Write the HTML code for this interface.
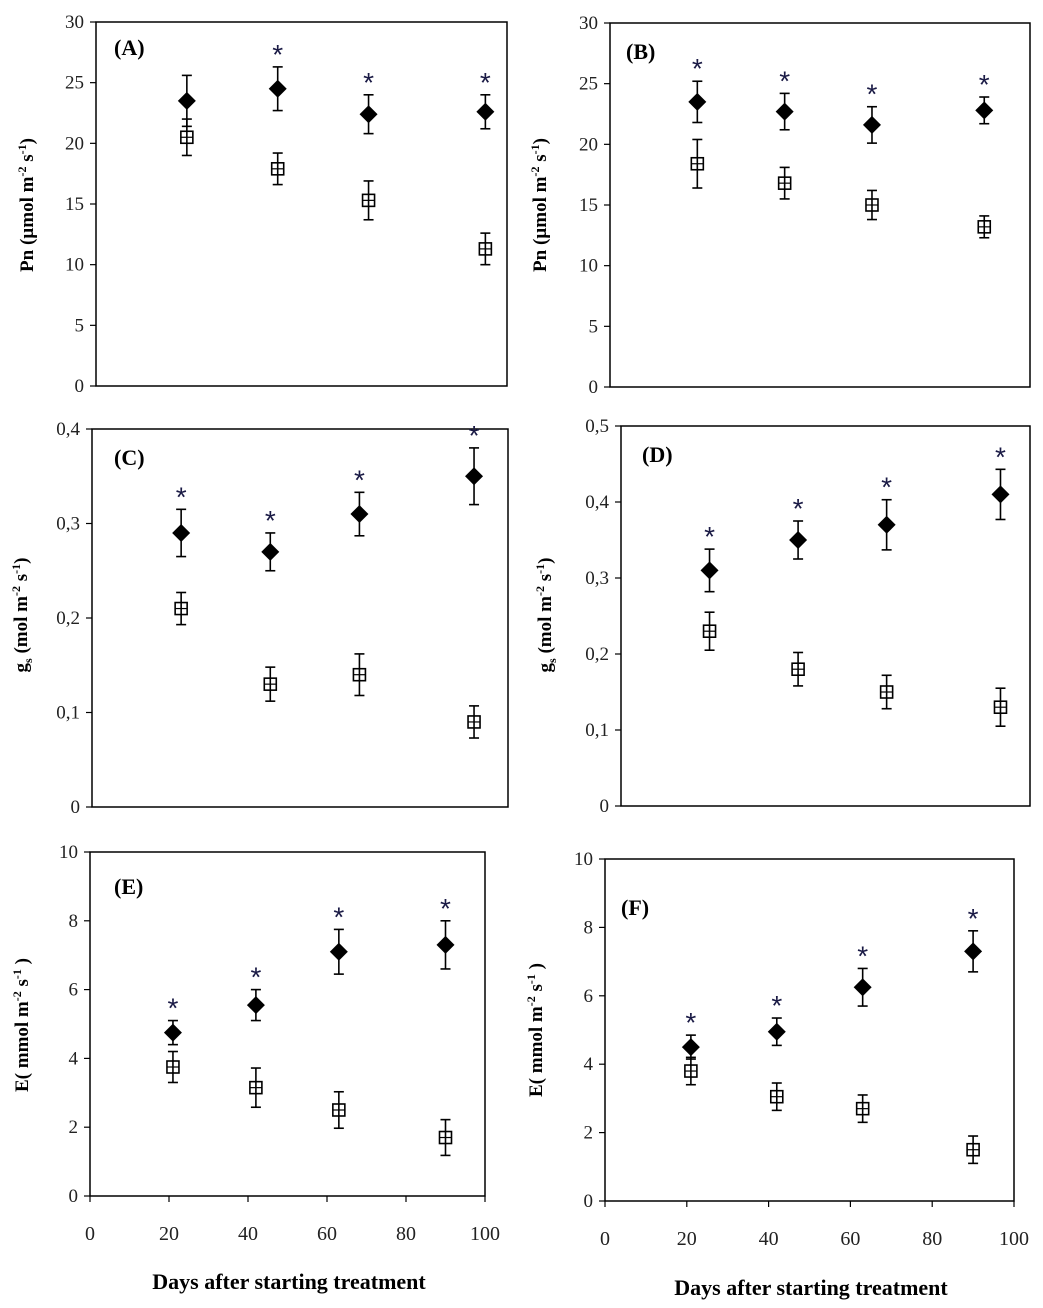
<!DOCTYPE html>
<html><head><meta charset="utf-8">
<style>
body{margin:0;background:#fff;}
svg{display:block;font-family:"Liberation Serif",serif;}
.tick{font-size:19px;fill:#222;}
.ytitle{font-size:19px;font-weight:bold;fill:#000;}
.plabel{font-size:22px;font-weight:bold;fill:#000;}
</style></head>
<body>
<svg id="fig" width="1043" height="1308" viewBox="0 0 1043 1308" xmlns="http://www.w3.org/2000/svg"></svg>
<script>
const days = [21, 42, 63, 90];
const aTreat = [23.5, 24.5, 22.4, 22.6];
const aTreatErr = [2.1, 1.8, 1.6, 1.4];
const aCtrl = [20.5, 17.9, 15.3, 11.3];
const aCtrlErr = [1.5, 1.3, 1.6, 1.3];
const aStar = [0, 1, 1, 1];
const bTreat = [23.5, 22.7, 21.6, 22.8];
const bTreatErr = [1.7, 1.5, 1.5, 1.1];
const bCtrl = [18.4, 16.8, 15.0, 13.2];
const bCtrlErr = [2.0, 1.3, 1.2, 0.9];
const bStar = [1, 1, 1, 1];
const cTreat = [0.29, 0.27, 0.31, 0.35];
const cTreatErr = [0.025, 0.02, 0.023, 0.03];
const cCtrl = [0.21, 0.13, 0.14, 0.09];
const cCtrlErr = [0.017, 0.018, 0.022, 0.017];
const cStar = [1, 1, 1, 1];
const dTreat = [0.31, 0.35, 0.37, 0.41];
const dTreatErr = [0.028, 0.025, 0.033, 0.033];
const dCtrl = [0.23, 0.18, 0.15, 0.13];
const dCtrlErr = [0.025, 0.022, 0.022, 0.025];
const dStar = [1, 1, 1, 1];
const eTreat = [4.75, 5.55, 7.1, 7.3];
const eTreatErr = [0.35, 0.45, 0.65, 0.7];
const eCtrl = [3.75, 3.15, 2.5, 1.7];
const eCtrlErr = [0.45, 0.57, 0.53, 0.52];
const eStar = [1, 1, 1, 1];
const fTreat = [4.5, 4.95, 6.25, 7.3];
const fTreatErr = [0.35, 0.4, 0.55, 0.6];
const fCtrl = [3.8, 3.05, 2.7, 1.5];
const fCtrlErr = [0.4, 0.4, 0.4, 0.4];
const fStar = [1, 1, 1, 1];
const pnTicks = ["0","5","10","15","20","25","30"];
const gsTicksC = ["0","0,1","0,2","0,3","0,4"];
const gsTicksD = ["0","0,1","0,2","0,3","0,4","0,5"];
const eTicks = ["0","2","4","6","8","10"];
const xTicks = ["0","20","40","60","80","100"];

const NS="http://www.w3.org/2000/svg";
const svg=document.getElementById('fig');
function mk(tag,attrs,parent){const e=document.createElementNS(NS,tag);for(const k in attrs)e.setAttribute(k,attrs[k]);(parent||svg).appendChild(e);return e;}

function panel(o){
  const g=mk('g',{});
  
  
  const ymax=o.yStep*(o.yTicks.length-1);
  const sy=v=>o.B-(v/ymax)*(o.B-o.T);
  const sx=d=>o.L+(d/o.xmax)*(o.R-o.L);
  const frame=mk('rect',{x:o.L,y:o.T,width:o.R-o.L,height:o.B-o.T,fill:'none',stroke:'#000','stroke-width':1.5},g);
  
  
  o.yTicks.forEach((t,i)=>{
    const y=sy(i*o.yStep);
    mk('line',{x1:o.L-6,x2:o.L,y1:y,y2:y,stroke:'#000','stroke-width':1.2},g);
    const tx=mk('text',{x:o.L-12,y:y+6,'text-anchor':'end',class:'tick'},g);
    tx.textContent=t;
    
    
  });
  if(o.xLabels){
    xTicks.forEach((t,i)=>{
      const x=sx(i*20);
      mk('line',{x1:x,x2:x,y1:o.B,y2:o.B+6,stroke:'#000','stroke-width':1.2},g);
      const tx=mk('text',{x:x,y:o.B+44,'text-anchor':'middle',class:'tick',style:'font-size:20px'},g);
      tx.textContent=t;
      
      
    });
    const xt=mk('text',{x:o.xtX,y:o.xtY,'text-anchor':'middle',class:'ytitle',style:'font-size:22px'},g);
    xt.textContent='Days after starting treatment';
    
    
  }
  const yt=mk('text',{transform:`translate(${o.ytX},${o.ytY}) rotate(-90)`,'text-anchor':'middle',class:'ytitle'},g);
  yt.innerHTML=o.ytitle;
  
  
  const pl=mk('text',{x:o.plX,y:o.plY,class:'plabel'},g);
  pl.textContent='('+o.id+')';
  
  
  function err(x,v,e){
    mk('line',{x1:x,x2:x,y1:sy(v-e),y2:sy(v+e),stroke:'#000','stroke-width':1.6},g);
    [v-e,v+e].forEach(w=>mk('line',{x1:x-5,x2:x+5,y1:sy(w),y2:sy(w),stroke:'#000','stroke-width':1.6},g));
  }
  days.forEach((d,i)=>{
    const x=sx(d);
    err(x,o.ctrl[i],o.ctrlErr[i]);
    const y=sy(o.ctrl[i]);
    const sq=mk('rect',{x:x-6,y:y-6,width:12,height:12,fill:'none',stroke:'#000','stroke-width':1.6},g);
    
    
    mk('line',{x1:x-6,x2:x+6,y1:y,y2:y,stroke:'#000','stroke-width':1.2},g);
    err(x,o.treat[i],o.treatErr[i]);
    const yd=sy(o.treat[i]);
    const dm=mk('polygon',{points:`${x},${yd-9} ${x+9},${yd} ${x},${yd+9} ${x-9},${yd}`,fill:'#000'},g);
    
    
    if(o.star[i]){
      const s=mk('text',{x:x,y:sy(o.treat[i]+o.treatErr[i])-3,'text-anchor':'middle',style:'font-size:28px;fill:#1a1a45;font-family:Liberation Sans,sans-serif'},g);
      s.textContent='*';
      
      
    }
  });
}
const pnT='Pn (µmol m<tspan dy="-7" font-size="12">-2</tspan><tspan dy="7"> s</tspan><tspan dy="-7" font-size="12">-1</tspan><tspan dy="7">)</tspan>';
const gsT='g<tspan dy="5" font-size="12">s</tspan><tspan dy="-5"> (mol m</tspan><tspan dy="-7" font-size="12">-2</tspan><tspan dy="7"> s</tspan><tspan dy="-7" font-size="12">-1</tspan><tspan dy="7">)</tspan>';
const eT='E( mmol m<tspan dy="-7" font-size="12">-2</tspan><tspan dy="7"> s</tspan><tspan dy="-7" font-size="12">-1</tspan><tspan dy="7"> )</tspan>';
panel({id:'A',L:96,R:507,T:22,B:386,xmax:95,yStep:5,yTicks:pnTicks,treat:aTreat,treatErr:aTreatErr,ctrl:aCtrl,ctrlErr:aCtrlErr,star:aStar,ytitle:pnT,ytX:33,ytY:205,plX:114,plY:55});
panel({id:'B',L:610,R:1030,T:23,B:387,xmax:101,yStep:5,yTicks:pnTicks,treat:bTreat,treatErr:bTreatErr,ctrl:bCtrl,ctrlErr:bCtrlErr,star:bStar,ytitle:pnT,ytX:546,ytY:205,plX:626,plY:59});
panel({id:'C',L:92,R:508,T:429,B:807,xmax:98,yStep:0.1,yTicks:gsTicksC,treat:cTreat,treatErr:cTreatErr,ctrl:cCtrl,ctrlErr:cCtrlErr,star:cStar,ytitle:gsT,ytX:27,ytY:615,plX:114,plY:465});
panel({id:'D',L:621,R:1030,T:426,B:806,xmax:97,yStep:0.1,yTicks:gsTicksD,treat:dTreat,treatErr:dTreatErr,ctrl:dCtrl,ctrlErr:dCtrlErr,star:dStar,ytitle:gsT,ytX:551,ytY:615,plX:642,plY:462});
panel({id:'E',L:90,R:485,T:852,B:1196,xmax:100,yStep:2,yTicks:eTicks,treat:eTreat,treatErr:eTreatErr,ctrl:eCtrl,ctrlErr:eCtrlErr,star:eStar,ytitle:eT,ytX:28,ytY:1025,plX:114,plY:894,xLabels:true,xtX:289,xtY:1289});
panel({id:'F',L:605,R:1014,T:859,B:1201,xmax:100,yStep:2,yTicks:eTicks,treat:fTreat,treatErr:fTreatErr,ctrl:fCtrl,ctrlErr:fCtrlErr,star:fStar,ytitle:eT,ytX:542,ytY:1030,plX:621,plY:915,xLabels:true,xtX:811,xtY:1295});
</script>
</body></html>
